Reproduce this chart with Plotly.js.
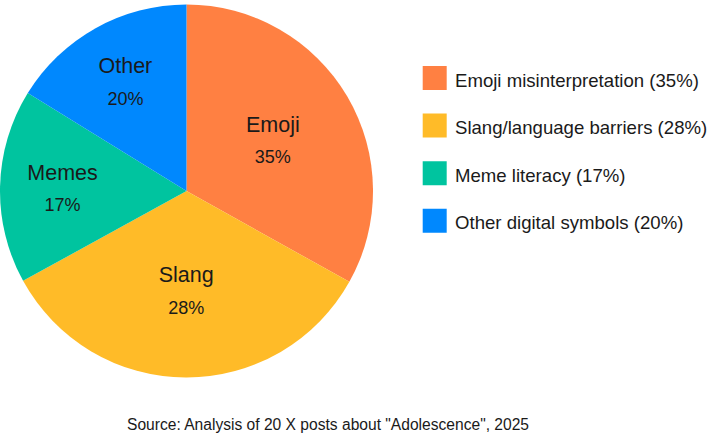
<!DOCTYPE html>
<html>
<head>
<meta charset="utf-8">
<script src="https://cdn.plot.ly/plotly-3.0.1.min.js"></script>
<style>
  html, body { margin: 0; padding: 0; background: #ffffff; }
  #chart { width: 714px; height: 437px; }
</style>
</head>
<body>
<div id="chart"></div>
<script>
// ---- data ----
const shortLabels   = ["Emoji", "Slang", "Memes", "Other"];
const legendLabels  = ["Emoji misinterpretation (35%)", "Slang/language barriers (28%)", "Meme literacy (17%)", "Other digital symbols (20%)"];
const percentLabels = ["35%", "28%", "17%", "20%"];
const shares        = [33.1, 33.9, 16.8, 16.2];
const sliceColors   = ["#FF8042", "#FFBB28", "#00C49F", "#0088FE"];
const sourceNote    = 'Source: Analysis of 20 X posts about "Adolescence", 2025';

const FONT = 'Arial, "Liberation Sans", sans-serif';
const TEXT = '#1a1a1a';

const trace = {
  type: 'pie',
  values: shares,
  labels: legendLabels.map(s => '<span style="font-size:18.6px">' + s + '</span>'),
  customdata: shortLabels.map((s, i) => [s, percentLabels[i]]),
  texttemplate: '<span style="font-size:21.5px">%{customdata[0]}</span><br><span style="font-size:18px">%{customdata[1]}</span>',
  textposition: 'inside',
  insidetextorientation: 'horizontal',
  textfont: { family: FONT, size: 24, color: TEXT },
  marker: { colors: sliceColors, line: { width: 0 } },
  sort: false,
  direction: 'clockwise',
  rotation: 0,
  hoverinfo: 'none',
  domain: { x: [0, 373 / 714], y: [0, 1] }
};

const layout = {
  width: 714,
  height: 437,
  margin: { l: 0, r: 0, t: 4, b: 59 },
  paper_bgcolor: '#ffffff',
  plot_bgcolor: '#ffffff',
  font: { family: FONT, color: TEXT },
  showlegend: true,
  legend: {
    x: 415 / 714,
    xanchor: 'left',
    y: 0.8917,
    yanchor: 'top',
    font: { family: FONT, size: 34.3, color: TEXT },
    bgcolor: 'rgba(0,0,0,0)',
    borderwidth: 0,
    itemclick: false,
    itemdoubleclick: false
  },
  annotations: [{
    text: sourceNote,
    xref: 'paper', yref: 'paper',
    x: 328 / 714, y: -0.124,
    xanchor: 'center', yanchor: 'middle',
    showarrow: false,
    font: { family: FONT, size: 15.6, color: TEXT }
  }]
};

const gd = document.getElementById('chart');
Plotly.newPlot(gd, [trace], layout, { displayModeBar: false, staticPlot: true }).then(() => {
  // enlarge legend swatches to the 24px squares of the reference
  gd.querySelectorAll('.legend .traces').forEach(g => {
    const p = g.querySelector('path.legendpie');
    const t = g.querySelector('text.legendtext');
    if (!p || !t) return;
    const tx = parseFloat(t.getAttribute('x')) || 40;
    const ty = parseFloat(t.getAttribute('y')) || 0;
    p.setAttribute('d', 'M12,12H-12V-12H12Z');
    p.setAttribute('transform', 'translate(' + (tx - 20.3) + ',' + (ty - 8.7) + ')');
  });
});
</script>
</body>
</html>
